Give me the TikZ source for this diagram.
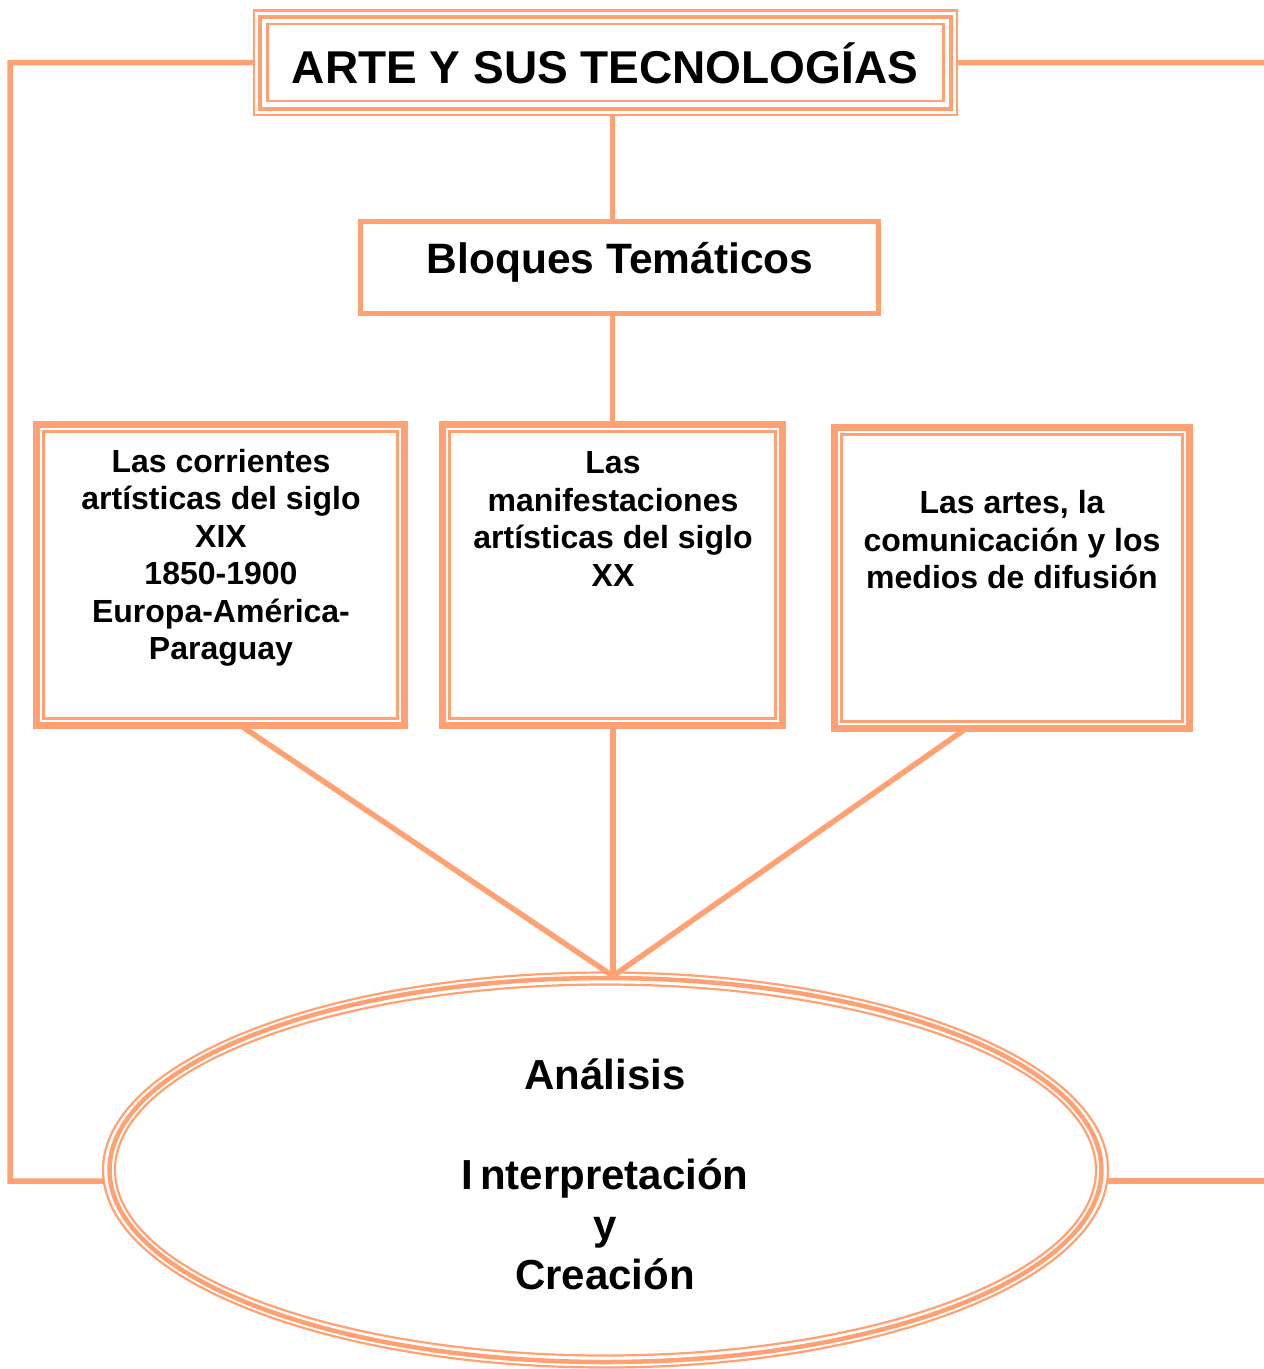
\documentclass[tikz,border=0pt]{standalone}
\usepackage{fontspec}
\setmainfont{Liberation Sans}
\usetikzlibrary{shapes.geometric}
\definecolor{salmon}{RGB}{255,161,115}
\tikzset{
  conn/.style={draw=salmon, line width=5.5pt},
  thinb/.style={draw=salmon, line width=2.2pt},
  boxthick/.style={draw=salmon, line width=7pt, rectangle, inner sep=0pt, outer sep=0pt},
  txt/.style={align=center, inner sep=0pt, font=\bfseries\fontsize{32}{37.5}\selectfont},
}
\begin{document}
\begin{tikzpicture}[x=1pt,y=-1pt]
\useasboundingbox (0,0) rectangle (1264,1369);
% title
\node[draw=salmon, line width=4pt, inner sep=0pt, outer sep=0pt,
      minimum width=690.4pt, minimum height=92pt] (title) at (605.5,62.7) {};
\draw[thinb] ([shift={(-6.3,-6.3)}]title.north west) rectangle ([shift={(6.3,6.3)}]title.south east);
\draw[thinb] ([shift={(7.2,7.6)}]title.north west) rectangle ([shift={(-7.2,-8)}]title.south east);
\node[font=\bfseries\fontsize{46}{50}\selectfont, inner sep=0pt] (titletext) at (605,63) {ARTE Y SUS TECNOLOGÍAS};
% bloques
\node[draw=salmon, line width=5pt, inner sep=0pt, outer sep=0pt,
      minimum width=518pt, minimum height=92pt] (bloques) at (619.5,267.5) {};
\node[font=\bfseries\fontsize{42.5}{46}\selectfont, inner sep=0pt] (bloquestext) at (620,262) {Bloques Temáticos};
% three boxes
\node[boxthick, minimum width=368pt, minimum height=301pt] (box1) at (220.5,575) {};
\node[boxthick, minimum width=340pt, minimum height=301pt] (box2) at (612.5,575) {};
\node[boxthick, minimum width=355pt, minimum height=301pt] (box3) at (1012,578) {};
\foreach \b in {box1,box2,box3}{
  \draw[thinb] ([shift={(7,7)}]\b.north west) rectangle ([shift={(-7,-7)}]\b.south east);
}
\node[txt] (t1) at (221,558) {Las corrientes\\artísticas del siglo\\XIX\\1850-1900\\Europa-América-\\Paraguay};
\node[txt] (t2) at (613,519) {Las\\manifestaciones\\artísticas del siglo\\XX};
\node[txt] (t3) at (1012,540) {Las artes, la\\comunicación y los\\medios de difusión};
% ellipse
\node[ellipse, draw=salmon, line width=4.5pt, inner sep=0pt, outer sep=0pt,
      minimum width=992pt, minimum height=384pt] (ell) at (605.5,1170) {};
\draw[thinb] (ell.center) ellipse [x radius=502.5, y radius=197.5];
\draw[thinb] (ell.center) ellipse [x radius=490.5, y radius=185.5];
\node[align=center, inner sep=0pt, font=\bfseries\fontsize{42}{50}\selectfont] (elltext) at (605,1174)
  {Análisis\\[50pt]I\kern7pt nterpretación\\y\\Creación};
% connectors
\coordinate (hub) at (613,976);
\coordinate (lefttop) at (10,62.5);
\coordinate (leftbot) at (10,1181);
\coordinate (rightend) at (1264,62.5);
\coordinate (rightend2) at (1264,1181);
\coordinate (ellleft) at (103,1181);
\coordinate (ellright) at (1108,1181);
\draw[conn] ([xshift=-6.3pt]title.west) -- (lefttop) -- (leftbot) -- (ellleft);
\draw[conn] ([xshift=6.3pt]title.east) -- (rightend);
\draw[conn] (ellright) -- (rightend2);
\draw[conn] ([yshift=-6.3pt]title.south -| box2.north) -- (bloques.north -| box2.north);
\draw[conn] (bloques.south -| box2.north) -- (box2.north);
\draw[conn] ([xshift=20pt]box1.south) -- (hub);
\draw[conn] (box2.south -| hub) -- (hub);
\draw[conn] ([xshift=-46pt]box3.south) -- (hub);
\end{tikzpicture}
\end{document}
